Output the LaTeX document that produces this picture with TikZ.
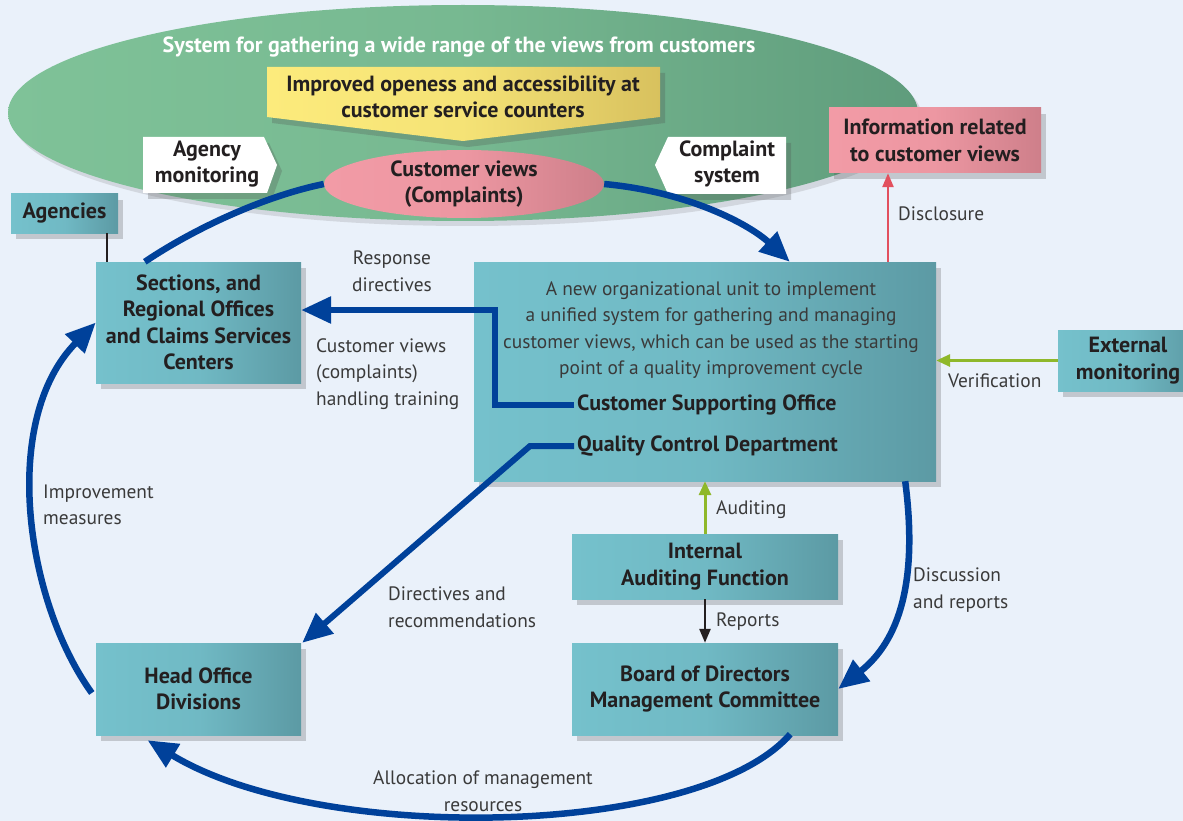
\documentclass[tikz,border=0pt]{standalone}
\usepackage{fontspec}
\setmainfont{PT Sans}
\usetikzlibrary{arrows.meta,shadows,shapes.geometric,calc}
\definecolor{bg}{HTML}{EAF1FA}
\definecolor{grnL}{HTML}{7FC298}
\definecolor{grnR}{HTML}{5F9C7C}
\definecolor{tealL}{HTML}{75C1CC}
\definecolor{tealR}{HTML}{5C9AA4}
\definecolor{pinkL}{HTML}{F29BA6}
\definecolor{pinkR}{HTML}{CE7F8A}
\definecolor{yelL}{HTML}{FCEB7C}
\definecolor{yelR}{HTML}{D8C15E}
\definecolor{navy}{HTML}{00419A}
\definecolor{lime}{HTML}{8FB82A}
\definecolor{redar}{HTML}{E2505E}
\definecolor{txt}{HTML}{231F20}
\definecolor{lbl}{HTML}{3A3A3A}
\begin{document}
\begin{tikzpicture}[x=1pt,y=-1pt,
  every node/.style={inner sep=0pt},
  bfont/.style={font=\bfseries\fontsize{22}{26.5}\selectfont, text=txt, align=center},
  lfont/.style={font=\fontsize{19.4}{26.5}\selectfont, text=lbl},
  shad/.style={drop shadow={opacity=0.25, shadow xshift=5pt, shadow yshift=-6pt, fill=black!70}},
  tealbox/.style={rectangle, bfont, left color=tealL, right color=tealR, middle color=tealL!80!tealR, shad},
  pinkfill/.style={left color=pinkL, right color=pinkR, middle color=pinkL!85!pinkR},
  bluearrow/.style={draw=navy, line width=6.5pt, -{Triangle[length=30pt,width=26pt]}},
  blueline/.style={draw=navy, line width=6.5pt},
  greenarrow/.style={draw=lime, line width=3pt, -{Triangle[length=14pt,width=12pt]}},
  redarrow/.style={draw=redar, line width=2.5pt, -{Triangle[length=14pt,width=11pt]}},
  blackarrow/.style={draw=txt, line width=2.5pt, -{Triangle[length=14pt,width=11pt]}},
  tagshape/.style={fill=white, shad}
]
\useasboundingbox (0,0) rectangle (1183,821);
\fill[bg] (0,0) rectangle (1183,821);

% big green ellipse
\path[left color=grnL, right color=grnR, middle color=grnL!75!grnR,
      drop shadow={opacity=0.18, shadow xshift=4pt, shadow yshift=-5pt, fill=black!60}]
  (463,113) ellipse [x radius=455, y radius=108];
\node[font=\bfseries\fontsize{22}{24}\selectfont, text=white] (title) at (459,47)
  {System for gathering a wide range of the views from customers};

% yellow banner
\path[left color=yelL, right color=yelR, middle color=yelL!80!yelR, shad]
  (267,67) -- (660,67) -- (660,117) -- (463,141) -- (267,117) -- cycle;
\node[bfont] (banner) at (463,97) {Improved openess and accessibility at\\customer service counters};

% white tags
\path[tagshape] (143,137) -- (264,137) -- (277,165) -- (267,193) -- (143,193) -- cycle;
\node[bfont] (agmon) at (207,164) {Agency\\monitoring};
\path[tagshape] (668,137) -- (786,137) -- (786,194) -- (668,194) -- (655,165) -- cycle;
\node[bfont] (compl) at (727,164) {Complaint\\system};

% customer views ellipse
\node[ellipse, minimum width=280, minimum height=68, pinkfill, bfont] (cv) at (464,184)
  {Customer views\\(Complaints)};

% information box
\node[rectangle, minimum width=212, minimum height=65, pinkfill, shad, bfont] (info) at (935,140.5)
  {Information related\\to customer views};

% teal boxes
\node[tealbox, minimum width=107, minimum height=39] (ag) at (64.5,213.5) {Agencies};
\node[tealbox, minimum width=205, minimum height=121] (sec) at (198.5,322.5)
  {Sections, and\\Regional Offices\\and Claims Services\\Centers};
\node[tealbox, minimum width=462, minimum height=219] (ctr) at (705,371.5) {};
\node[tealbox, minimum width=140, minimum height=61] (ext) at (1128,360.5) {External\\monitoring};
\node[tealbox, minimum width=266, minimum height=65] (ia) at (705,566.5) {Internal\\Auditing Function};
\node[tealbox, minimum width=266, minimum height=92] (board) at (705,689)
  {Board of Directors\\Management Committee};
\node[tealbox, minimum width=205, minimum height=92] (ho) at (198.5,689) {Head Office\\Divisions};

% center box texts
\node[lfont, align=center] (desc) at (711,330)
  {A new organizational unit to implement\\a unified system for gathering and managing\\customer views, which can be used as the starting\\point of a quality improvement cycle};
\node[bfont, anchor=west] (cso) at (577,405) {Customer Supporting Office};
\node[bfont, anchor=west] (qcd) at (577,446) {Quality Control Department};

% labels
\node[lfont, align=center] (lresp) at (392,271) {Response\\directives};
\node[lfont, align=left, anchor=west] (ltrain) at (316,374) {Customer views\\(complaints)\\handling training};
\node[lfont, align=left, anchor=west] (limpr) at (43,505) {Improvement\\measures};
\node[lfont, align=left, anchor=west] (ldir) at (388,607) {Directives and\\recommendations};
\node[lfont, align=left, anchor=west] (ldisc) at (913,590) {Discussion\\and reports};
\node[lfont, align=center] (lalloc) at (483,791) {Allocation of management\\resources};
\node[lfont, anchor=west] (ldiscl) at (898,214) {Disclosure};
\node[lfont, anchor=west] (lverif) at (948,381) {Verification};
\node[lfont, anchor=west] (laudit) at (716,510) {Auditing};
\node[lfont, anchor=west] (lrep) at (716,622) {Reports};

% agencies connector
\coordinate (agl) at ([xshift=42.5pt]ag.south);
\draw[draw=txt, line width=2.2pt] (agl) -- (agl |- sec.north);

% thin arrows
\coordinate (dtop) at ([xshift=-47pt]info.south);
\draw[redarrow] (dtop |- ctr.north) -- (dtop);
\draw[greenarrow] (ext.west) -- (ctr.east |- ext.west);
\draw[greenarrow] (ia.north) -- (ia.north |- ctr.south);
\draw[blackarrow] (ia.south) -- (board.north);

% blue cycle
\coordinate (a1) at ([xshift=49pt]sec.north west);
\draw[blueline] (a1) .. controls (195,228) and (265,196) .. (cv.west);
\draw[bluearrow] (cv.east) .. controls (690,192) and (750,225) .. ([xshift=316pt]ctr.north west);
\draw[bluearrow] ([xshift=-31pt]ctr.south east) .. controls (918,580) and (900,640) .. (board.east);
\draw[bluearrow] ([xshift=-48pt,yshift=1pt]board.south east) .. controls (700,838) and (320,845) .. ([xshift=-51pt,yshift=-5pt]ho.south);
\draw[bluearrow] ([xshift=-4pt,yshift=-4pt]ho.west) .. controls (25,600) and (0,420) .. (sec.west);

% blue directive arrows
\coordinate (rd) at (495,310);
\draw[bluearrow, line width=6pt] ([xshift=-3pt]cso.west) -| (rd) -- (rd -| sec.east);
\draw[bluearrow, line width=6pt] ([xshift=-3pt]qcd.west) -- ++(-44,0) -- ([xshift=1pt]ho.north east);
\end{tikzpicture}
\end{document}
